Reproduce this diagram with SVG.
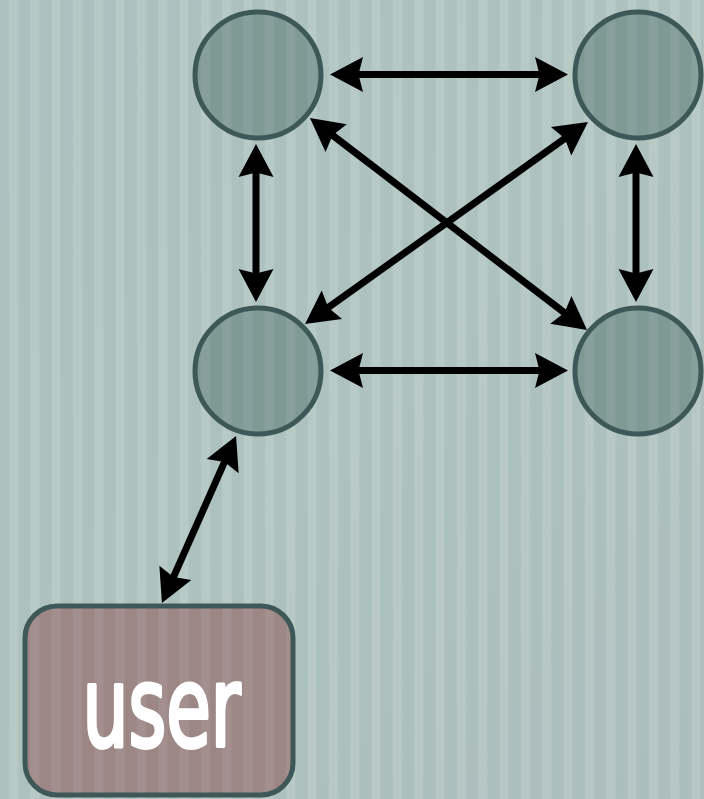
<svg xmlns="http://www.w3.org/2000/svg" width="704" height="799" viewBox="0 0 704 799">
  <defs>
    <style>
      .node { fill: #7f9995; stroke: #3d5857; stroke-width: 5; }
      .user { fill: #9c8785; stroke: #3d5857; stroke-width: 5; }
      .tex { fill: url(#stripes); stroke: none; }
      .tex-soft { fill: url(#stripes); stroke: none; opacity: 0.55; }
      .link { fill: none; stroke: #000; stroke-width: 7; marker-start: url(#head); marker-end: url(#head); }
      .label { font-family: "DejaVu Sans Condensed", "DejaVu Sans", sans-serif; font-size: 112px; fill: #fff; stroke: #fff; stroke-width: 4; stroke-linejoin: round; }
    </style>
    <!-- faint vertical stripe texture laid over every fill -->
    <pattern id="stripes" patternUnits="userSpaceOnUse" x="0" y="0" width="21.33" height="799">
      <rect x="9" y="0" width="9" height="799" fill="#ffffff" fill-opacity="0.13"/>
    </pattern>
    <linearGradient id="tint" x1="0" y1="0" x2="1" y2="1">
      <stop offset="0" stop-color="#acc1bf"/>
      <stop offset="0.5" stop-color="#adc2be"/>
      <stop offset="1" stop-color="#abbdbd"/>
    </linearGradient>
    <!-- barbed arrowhead; the shaft stops at the notch, tip sits 27px further on -->
    <marker id="head" markerUnits="userSpaceOnUse" orient="auto-start-reverse" viewBox="-10 -20 40 40" refX="0" refY="0" markerWidth="40" markerHeight="40">
      <path d="M27,0 L-6,-17.5 L-1.5,0 L-6,17.5 Z" fill="#000"/>
    </marker>
  </defs>

  <!-- backdrop -->
  <rect x="0" y="0" width="704" height="799" fill="url(#tint)"/>
  <rect x="0" y="0" width="704" height="799" class="tex"/>

  <!-- nodes -->
  <g id="node-a">
    <circle cx="258" cy="75" r="63" class="node"/>
    <circle cx="258" cy="75" r="60.5" class="tex-soft"/>
  </g>
  <g id="node-b">
    <circle cx="638" cy="75" r="63" class="node"/>
    <circle cx="638" cy="75" r="60.5" class="tex-soft"/>
  </g>
  <g id="node-c">
    <circle cx="258" cy="371" r="63" class="node"/>
    <circle cx="258" cy="371" r="60.5" class="tex-soft"/>
  </g>
  <g id="node-d">
    <circle cx="638" cy="371" r="63" class="node"/>
    <circle cx="638" cy="371" r="60.5" class="tex-soft"/>
  </g>
  <g id="node-user">
    <rect x="25" y="606" width="268" height="189" rx="32" ry="32" class="user"/>
    <rect x="27.5" y="608.5" width="263" height="184" rx="30" ry="30" class="tex-soft"/>
    <text x="161.5" y="746" text-anchor="middle" class="label" textLength="158" lengthAdjust="spacingAndGlyphs">user</text>
  </g>

  <!-- connectors -->
  <g id="connectors">
    <path class="link" d="M357,74.5 L541,74.5"/>
    <path class="link" d="M357,370.5 L541,370.5"/>
    <path class="link" d="M256,171 L256,275"/>
    <path class="link" d="M636,171 L636,275"/>
    <path class="link" d="M331.4,134.4 L565.6,313.6"/>
    <path class="link" d="M566,137.7 L327,308.3"/>
    <path class="link" d="M225.1,460.7 L172.9,578.3"/>
  </g>
</svg>
